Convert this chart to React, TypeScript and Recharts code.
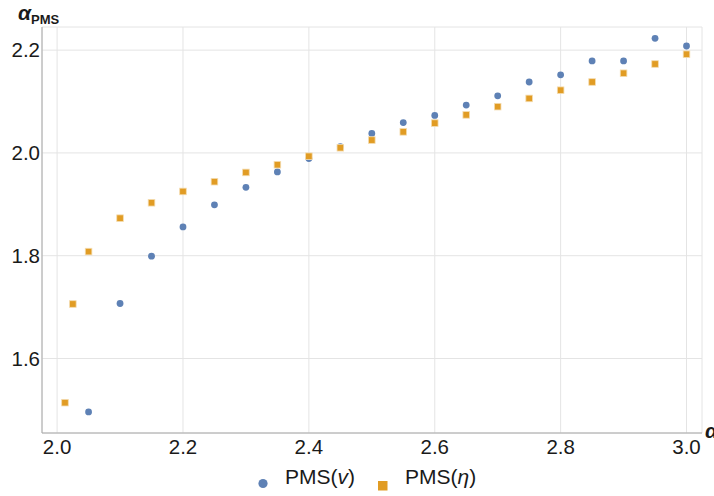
// α_PMS vs α — PMS(v) and PMS(η) scatter (Recharts)

import {
  ScatterChart,
  Scatter,
  XAxis,
  YAxis,
  CartesianGrid,
} from 'recharts';

const vX = [2.05, 2.1, 2.15, 2.2, 2.25, 2.3, 2.35, 2.4, 2.45, 2.5, 2.55, 2.6, 2.65, 2.7, 2.75, 2.8, 2.85, 2.9, 2.95, 3.0];
const vY = [1.496, 1.707, 1.799, 1.856, 1.899, 1.933, 1.963, 1.989, 2.012, 2.038, 2.059, 2.073, 2.093, 2.111, 2.138, 2.152, 2.179, 2.179, 2.223, 2.208];

const etaX = [2.0125, 2.025, 2.05, 2.1, 2.15, 2.2, 2.25, 2.3, 2.35, 2.4, 2.45, 2.5, 2.55, 2.6, 2.65, 2.7, 2.75, 2.8, 2.85, 2.9, 2.95, 3.0];
const etaY = [1.514, 1.706, 1.808, 1.873, 1.903, 1.925, 1.944, 1.962, 1.977, 1.9935, 2.01, 2.025, 2.041, 2.058, 2.074, 2.09, 2.106, 2.122, 2.138, 2.155, 2.173, 2.192];

const xMajor = [2.0, 2.2, 2.4, 2.6, 2.8, 3.0];
const yMajor = [1.6, 1.8, 2.0, 2.2];
const xMinor = [2.0, 2.05, 2.1, 2.15, 2.2, 2.25, 2.3, 2.35, 2.4, 2.45, 2.5, 2.55, 2.6, 2.65, 2.7, 2.75, 2.8, 2.85, 2.9, 2.95, 3.0];
const yMinor = [1.5, 1.55, 1.6, 1.65, 1.7, 1.75, 1.8, 1.85, 1.9, 1.95, 2.0, 2.05, 2.1, 2.15, 2.2];

const X_DOMAIN: [number, number] = [1.976, 3.0246];
const Y_DOMAIN: [number, number] = [1.455, 2.245];

const BLUE = '#5E81B5';
const ORANGE = '#E19C24';
const AXIS = '#a8a8a8';
const GRID = '#e4e4e4';
const INK = '#1a1a1a';
const FONT = "'Liberation Sans', Arial, sans-serif";

const W = 714;
const H = 496;

const vData = vX.map((x, i) => ({ x, y: vY[i] }));
const etaData = etaX.map((x, i) => ({ x, y: etaY[i] }));

const fmt = (v: number) => v.toFixed(1);

function Dot(props: any) {
  const { cx, cy } = props;
  if (cx == null || cy == null) return null;
  return <circle cx={cx} cy={cy} r={3.4} fill={BLUE} />;
}

function Box(props: any) {
  const { cx, cy } = props;
  if (cx == null || cy == null) return null;
  const s = 6.6;
  return (
    <rect
      x={cx - s / 2}
      y={cy - s / 2}
      width={s}
      height={s}
      fill={ORANGE}
      stroke="#f4dcb0"
      strokeWidth={0.8}
    />
  );
}

export default function App() {
  return (
    <div
      style={{
        position: 'absolute',
        left: 0,
        top: 0,
        width: W,
        height: H,
        overflow: 'hidden',
        background: '#fff',
        fontFamily: FONT,
      }}
    >
      <ScatterChart
        width={W}
        height={H}
        margin={{ top: 27, right: 12, bottom: 38, left: 0 }}
      >
        <CartesianGrid stroke={GRID} strokeWidth={1} />

        {/* minor tick marks, drawn inward */}
        <XAxis
          xAxisId="m"
          type="number"
          dataKey="x"
          domain={X_DOMAIN}
          allowDataOverflow
          ticks={xMinor}
          height={0}
          mirror
          tick={false}
          tickSize={3}
          tickLine={{ stroke: AXIS }}
          axisLine={false}
        />
        <YAxis
          yAxisId="m"
          type="number"
          dataKey="y"
          domain={Y_DOMAIN}
          allowDataOverflow
          ticks={yMinor}
          width={0}
          mirror
          tick={false}
          tickSize={3}
          tickLine={{ stroke: AXIS }}
          axisLine={false}
        />

        <XAxis
          type="number"
          dataKey="x"
          domain={X_DOMAIN}
          allowDataOverflow
          ticks={xMajor}
          tickFormatter={fmt}
          height={25}
          tickSize={0}
          tickMargin={6}
          tickLine={false}
          axisLine={{ stroke: AXIS }}
          tick={{ fontSize: 20.5, fontFamily: FONT, fill: INK }}
        />
        <YAxis
          type="number"
          dataKey="y"
          domain={Y_DOMAIN}
          allowDataOverflow
          ticks={yMajor}
          tickFormatter={fmt}
          width={42}
          tickSize={0}
          tickMargin={2}
          tickLine={false}
          axisLine={{ stroke: AXIS }}
          tick={{ fontSize: 20.5, fontFamily: FONT, fill: INK }}
        />

        <Scatter data={vData} shape={Dot} isAnimationActive={false} />
        <Scatter data={etaData} shape={Box} isAnimationActive={false} />
      </ScatterChart>

      {/* axis titles */}
      <div style={{ position: 'absolute', left: 18, top: 1, color: INK, whiteSpace: 'nowrap' }}>
        <span style={{ fontSize: 21, fontWeight: 'bold', fontStyle: 'italic' }}>α</span>
        <span style={{ fontSize: 13, fontWeight: 'bold', position: 'relative', top: 4 }}>PMS</span>
      </div>
      <div
        style={{
          position: 'absolute',
          left: 705,
          top: 419,
          fontSize: 21,
          fontWeight: 'bold',
          fontStyle: 'italic',
          color: INK,
        }}
      >
        α
      </div>

      {/* legend */}
      <svg
        style={{ position: 'absolute', left: 0, top: 0, pointerEvents: 'none' }}
        width={W}
        height={H}
      >
        <circle cx={263} cy={483.5} r={4.6} fill={BLUE} />
        <text x={285} y={484} fontSize={21} fontFamily={FONT} fill={INK}>
          PMS(<tspan fontStyle="italic">v</tspan>)
        </text>
        <rect x={378} y={481} width={9.5} height={9.5} fill={ORANGE} />
        <text x={405} y={484} fontSize={21} fontFamily={FONT} fill={INK}>
          PMS(<tspan fontStyle="italic">η</tspan>)
        </text>
      </svg>
    </div>
  );
}
